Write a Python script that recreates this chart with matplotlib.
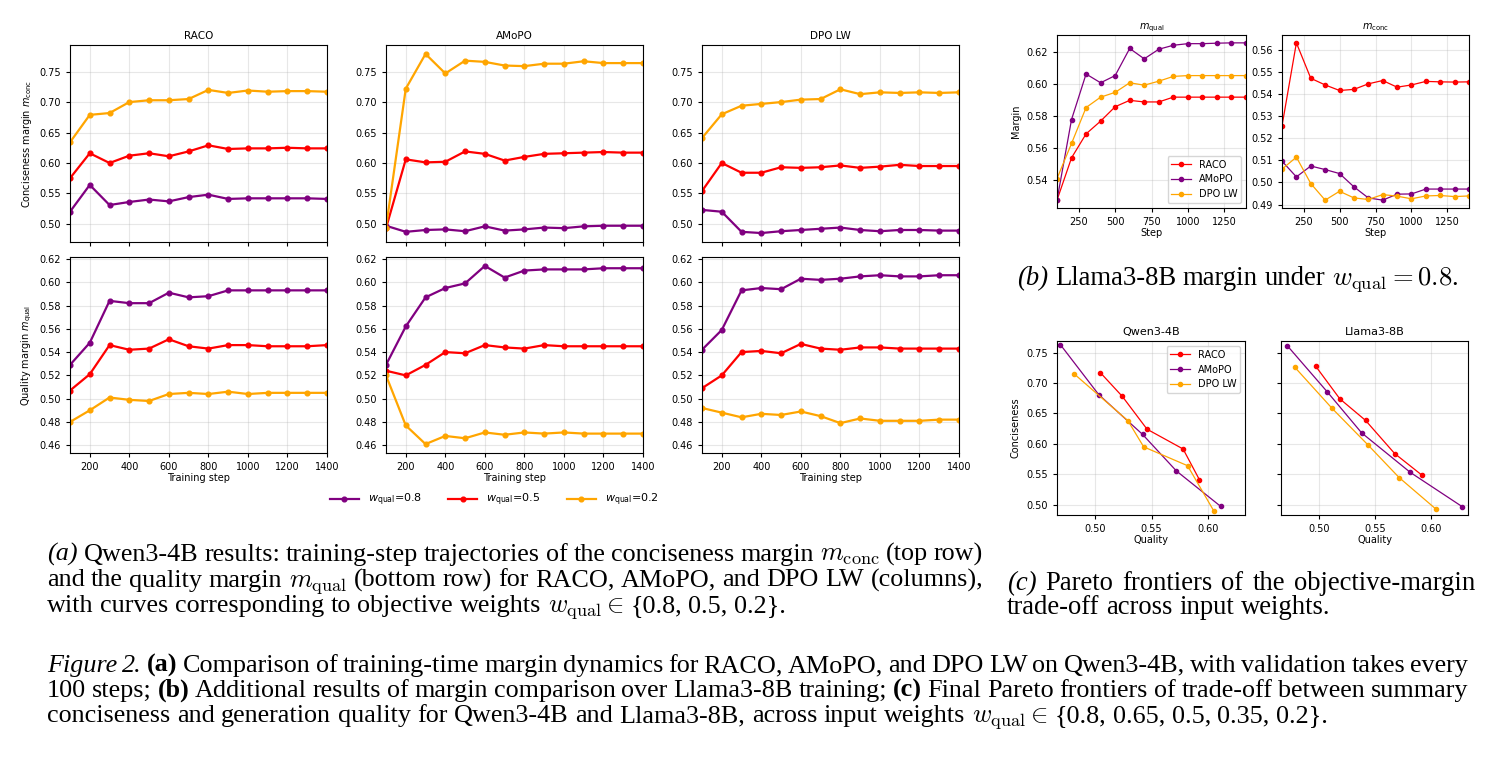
import matplotlib
matplotlib.use('Agg')
import matplotlib.pyplot as plt

W, H = 1492, 757

steps = list(range(100, 1500, 100))
weights = ['0.8', '0.5', '0.2']
w_colors = ['purple', 'red', 'orange']
methods = ['RACO', 'AMoPO', 'DPO LW']
m_colors = ['red', 'purple', 'orange']

# (a) Qwen3-4B, conciseness margin, per method and w_qual
raco_conc_08 = [0.520, 0.564, 0.531, 0.536, 0.540, 0.537, 0.544, 0.548, 0.541, 0.542, 0.542, 0.542, 0.542, 0.541]
raco_conc_05 = [0.575, 0.616, 0.600, 0.612, 0.616, 0.611, 0.619, 0.629, 0.623, 0.624, 0.624, 0.625, 0.624, 0.624]
raco_conc_02 = [0.634, 0.679, 0.682, 0.700, 0.703, 0.703, 0.705, 0.720, 0.715, 0.719, 0.717, 0.718, 0.718, 0.717]
amopo_conc_08 = [0.497, 0.487, 0.490, 0.491, 0.488, 0.496, 0.489, 0.491, 0.494, 0.493, 0.496, 0.497, 0.497, 0.497]
amopo_conc_05 = [0.493, 0.606, 0.601, 0.602, 0.619, 0.615, 0.604, 0.610, 0.615, 0.616, 0.617, 0.618, 0.617, 0.617]
amopo_conc_02 = [0.494, 0.722, 0.779, 0.747, 0.768, 0.766, 0.760, 0.759, 0.763, 0.763, 0.767, 0.764, 0.764, 0.764]
dpo_conc_08 = [0.523, 0.520, 0.487, 0.485, 0.488, 0.490, 0.492, 0.494, 0.490, 0.488, 0.490, 0.490, 0.489, 0.489]
dpo_conc_05 = [0.554, 0.600, 0.584, 0.584, 0.593, 0.592, 0.593, 0.596, 0.592, 0.594, 0.597, 0.595, 0.595, 0.595]
dpo_conc_02 = [0.641, 0.680, 0.694, 0.697, 0.700, 0.704, 0.705, 0.721, 0.713, 0.716, 0.715, 0.716, 0.715, 0.716]

# (a) Qwen3-4B, quality margin
raco_qual_08 = [0.529, 0.548, 0.584, 0.582, 0.582, 0.591, 0.587, 0.588, 0.593, 0.593, 0.593, 0.593, 0.593, 0.593]
raco_qual_05 = [0.507, 0.521, 0.546, 0.542, 0.543, 0.551, 0.545, 0.543, 0.546, 0.546, 0.545, 0.545, 0.545, 0.546]
raco_qual_02 = [0.480, 0.490, 0.501, 0.499, 0.498, 0.504, 0.505, 0.504, 0.506, 0.504, 0.505, 0.505, 0.505, 0.505]
amopo_qual_08 = [0.529, 0.562, 0.587, 0.595, 0.599, 0.614, 0.604, 0.610, 0.611, 0.611, 0.611, 0.612, 0.612, 0.612]
amopo_qual_05 = [0.524, 0.520, 0.529, 0.540, 0.539, 0.546, 0.544, 0.543, 0.546, 0.545, 0.545, 0.545, 0.545, 0.545]
amopo_qual_02 = [0.520, 0.477, 0.461, 0.468, 0.466, 0.471, 0.469, 0.471, 0.470, 0.471, 0.470, 0.470, 0.470, 0.470]
dpo_qual_08 = [0.542, 0.559, 0.593, 0.595, 0.594, 0.603, 0.602, 0.603, 0.605, 0.606, 0.605, 0.605, 0.606, 0.606]
dpo_qual_05 = [0.509, 0.520, 0.540, 0.541, 0.539, 0.547, 0.543, 0.542, 0.544, 0.544, 0.543, 0.543, 0.543, 0.543]
dpo_qual_02 = [0.492, 0.488, 0.484, 0.487, 0.486, 0.489, 0.485, 0.479, 0.483, 0.481, 0.481, 0.481, 0.482, 0.482]

# (b) Llama3-8B margins, w_qual = 0.8
llama_qual_raco = [0.5275, 0.554, 0.569, 0.577, 0.586, 0.590, 0.589, 0.589, 0.592, 0.592, 0.592, 0.592, 0.592, 0.592]
llama_qual_amopo = [0.5275, 0.578, 0.6065, 0.601, 0.6055, 0.6225, 0.616, 0.622, 0.6245, 0.6255, 0.6255, 0.6258, 0.626, 0.626]
llama_qual_dpo = [0.541, 0.563, 0.5855, 0.592, 0.595, 0.601, 0.5995, 0.602, 0.605, 0.6055, 0.6055, 0.6055, 0.6055, 0.6055]
llama_conc_raco = [0.5255, 0.563, 0.547, 0.544, 0.5415, 0.542, 0.5445, 0.546, 0.543, 0.544, 0.5456, 0.5454, 0.5453, 0.5454]
llama_conc_amopo = [0.5096, 0.5025, 0.5074, 0.5058, 0.504, 0.498, 0.493, 0.492, 0.4947, 0.4948, 0.497, 0.497, 0.497, 0.497]
llama_conc_dpo = [0.506, 0.5114, 0.4995, 0.492, 0.496, 0.493, 0.4923, 0.4945, 0.4938, 0.4926, 0.4939, 0.4941, 0.4936, 0.4939]

# (c) Pareto frontiers (quality, conciseness)
qwen_raco_q = [0.5045, 0.524, 0.546, 0.578, 0.5925]
qwen_raco_c = [0.717, 0.678, 0.624, 0.5915, 0.541]
qwen_amopo_q = [0.469, 0.503, 0.542, 0.572, 0.6115]
qwen_amopo_c = [0.763, 0.681, 0.6155, 0.5555, 0.497]
qwen_dpo_q = [0.4815, 0.529, 0.543, 0.582, 0.6055]
qwen_dpo_c = [0.7145, 0.638, 0.595, 0.564, 0.489]
llama_raco_q = [0.497, 0.5185, 0.5415, 0.5675, 0.5915]
llama_raco_c = [0.7275, 0.674, 0.6385, 0.584, 0.549]
llama_amopo_q = [0.4715, 0.5075, 0.538, 0.5815, 0.628]
llama_amopo_c = [0.7615, 0.685, 0.618, 0.553, 0.4965]
llama_dpo_q = [0.4785, 0.5115, 0.5435, 0.5715, 0.6045]
llama_dpo_c = [0.7255, 0.6585, 0.5985, 0.5445, 0.4925]

fig = plt.figure(figsize=(W / 100, H / 100), dpi=100)


def add_ax(l, t, r, b, **kw):
    # pixel box -> figure fraction
    ax = fig.add_axes([l / W, 1 - b / H, (r - l) / W, (b - t) / H], **kw)
    ax.grid(True, alpha=0.3)
    ax.tick_params(labelsize=7, length=3, width=0.8)
    return ax


# ---------- (a) ----------
conc_sets = [[raco_conc_08, raco_conc_05, raco_conc_02],
             [amopo_conc_08, amopo_conc_05, amopo_conc_02],
             [dpo_conc_08, dpo_conc_05, dpo_conc_02]]
qual_sets = [[raco_qual_08, raco_qual_05, raco_qual_02],
             [amopo_qual_08, amopo_qual_05, amopo_qual_02],
             [dpo_qual_08, dpo_qual_05, dpo_qual_02]]

col_left = [70, 386, 702]
top0 = bot0 = None
for i, name in enumerate(methods):
    l = col_left[i]
    axt = add_ax(l, 45, l + 257, 242, sharey=top0)
    axb = add_ax(l, 257, l + 257, 453, sharex=axt, sharey=bot0)
    if i == 0:
        top0, bot0 = axt, axb
    for vals, w, c in zip(conc_sets[i], weights, w_colors):
        axt.plot(steps, vals, '-o', color=c, lw=1.6, ms=3.4, label=r'$w_{\rm qual}$=' + w)
    for vals, w, c in zip(qual_sets[i], weights, w_colors):
        axb.plot(steps, vals, '-o', color=c, lw=1.6, ms=3.4)
    axt.set_title(name, fontsize=7.5, pad=4)
    axt.tick_params(labelbottom=False)
    axb.set_xlim(100, 1400)
    axb.set_xticks(range(200, 1500, 200))
    axb.set_xlabel('Training step', fontsize=7, labelpad=1)
    axt.set_yticks([0.50, 0.55, 0.60, 0.65, 0.70, 0.75])
    axb.set_yticks([0.46, 0.48, 0.50, 0.52, 0.54, 0.56, 0.58, 0.60, 0.62])
    if i == 0:
        axt.set_ylabel(r'Conciseness margin $m_{\rm conc}$', fontsize=7)
        axb.set_ylabel(r'Quality margin $m_{\rm qual}$', fontsize=7)

handles, labels = top0.get_legend_handles_labels()
fig.legend(handles, labels, loc='center', bbox_to_anchor=(494 / W, 1 - 500 / H), ncol=3,
           frameon=False, fontsize=8, handlelength=2.6, columnspacing=2.4)

# ---------- (b) ----------
axq = add_ax(1057, 35, 1246, 208)
axc = add_ax(1282, 35, 1469, 208)
for vals, name, c in zip([llama_qual_raco, llama_qual_amopo, llama_qual_dpo], methods, m_colors):
    axq.plot(steps, vals, '-o', color=c, lw=0.9, ms=3, label=name)
for vals, name, c in zip([llama_conc_raco, llama_conc_amopo, llama_conc_dpo], methods, m_colors):
    axc.plot(steps, vals, '-o', color=c, lw=0.9, ms=3, label=name)
for ax, t in [(axq, r'$m_{\rm qual}$'), (axc, r'$m_{\rm conc}$')]:
    ax.set_xlim(100, 1400)
    ax.set_xticks([250, 500, 750, 1000, 1250])
    ax.set_xlabel('Step', fontsize=7, labelpad=1)
    ax.set_title(t, fontsize=7, pad=4)
axq.set_yticks([0.54, 0.56, 0.58, 0.60, 0.62])
axc.set_yticks([0.49, 0.50, 0.51, 0.52, 0.53, 0.54, 0.55, 0.56])
axq.set_ylabel('Margin', fontsize=7)
axq.legend(loc='lower right', fontsize=7)

# ---------- (c) ----------
ax1 = add_ax(1057, 341, 1245, 515)
ax2 = add_ax(1281, 341, 1468, 515, sharex=ax1, sharey=ax1)
pareto = [(ax1, 'Qwen3-4B', [(qwen_raco_q, qwen_raco_c), (qwen_amopo_q, qwen_amopo_c), (qwen_dpo_q, qwen_dpo_c)]),
          (ax2, 'Llama3-8B', [(llama_raco_q, llama_raco_c), (llama_amopo_q, llama_amopo_c), (llama_dpo_q, llama_dpo_c)])]
for ax, title, sets in pareto:
    for (q, c_), name, col in zip(sets, methods, m_colors):
        ax.plot(q, c_, '-o', color=col, lw=0.9, ms=3, label=name)
    ax.set_title(title, fontsize=8, pad=4)
    ax.set_xlabel('Quality', fontsize=7, labelpad=1)
ax1.set_xlim(0.466, 0.633)
ax1.set_ylim(0.483, 0.769)
ax1.set_xticks([0.50, 0.55, 0.60])
ax1.set_yticks([0.50, 0.55, 0.60, 0.65, 0.70, 0.75])
ax2.tick_params(labelleft=False)
ax1.set_ylabel('Conciseness', fontsize=7)
ax1.legend(loc='upper right', fontsize=7)

# ---------- captions ----------
renderer = fig.canvas.get_renderer()


def caption(lines, x0, x1, y0, step, size):
    # word by word so that full lines can be justified like the LaTeX original
    # ~word -> italic, !word -> bold
    space = size * 100 / 72 * 0.25
    for k, line in enumerate(lines):
        y = 1 - (y0 + k * step) / H
        ts = []
        for w in line.split(' '):
            style, weight = 'normal', 'normal'
            if w.startswith('~'):
                style, w = 'italic', w[1:]
            elif w.startswith('!'):
                weight, w = 'bold', w[1:]
            ts.append(fig.text(0, y, w, fontsize=size, family='Liberation Serif', style=style,
                               weight=weight, math_fontfamily='cm', va='baseline'))
        ws = [t.get_window_extent(renderer).width for t in ts]
        if x1 is None or k == len(lines) - 1:
            gap = space
        else:
            gap = max((x1 - x0 - sum(ws)) / (len(ws) - 1), 0.6 * space)
        x = x0
        for t, w in zip(ts, ws):
            t.set_x(x / W)
            x += w + gap


cap_a = [r"~(a) Qwen3-4B results: training-step trajectories of the conciseness margin $m_{\mathrm{conc}}$ (top row)",
         r"and the quality margin $m_{\mathrm{qual}}$ (bottom row) for RACO, AMoPO, and DPO LW (columns),",
         r"with curves corresponding to objective weights $w_{\mathrm{qual}}\in$ {0.8, 0.5, 0.2}."]
cap_b = [r"~(b) Llama3-8B margin under $w_{\mathrm{qual}}=0.8$."]
cap_c = [r"~(c) Pareto frontiers of the objective-margin",
         "trade-off across input weights."]
cap_fig = [r"~Figure ~2. !(a) Comparison of training-time margin dynamics for RACO, AMoPO, and DPO LW on Qwen3-4B, with validation takes every",
           r"100 steps; !(b) Additional results of margin comparison over Llama3-8B training; !(c) Final Pareto frontiers of trade-off between summary",
           r"conciseness and generation quality for Qwen3-4B and Llama3-8B, across input weights $w_{\mathrm{qual}}\in$ {0.8, 0.65, 0.5, 0.35, 0.2}."]

caption(cap_a, 47, 983, 561, 25.5, 18.8)
caption(cap_b, 1017, None, 285, 25, 19.2)
caption(cap_c, 1007, 1475, 590, 24.5, 19.2)
caption(cap_fig, 47, 1468, 672, 25, 18.8)

fig.savefig('out.png', dpi=100)
